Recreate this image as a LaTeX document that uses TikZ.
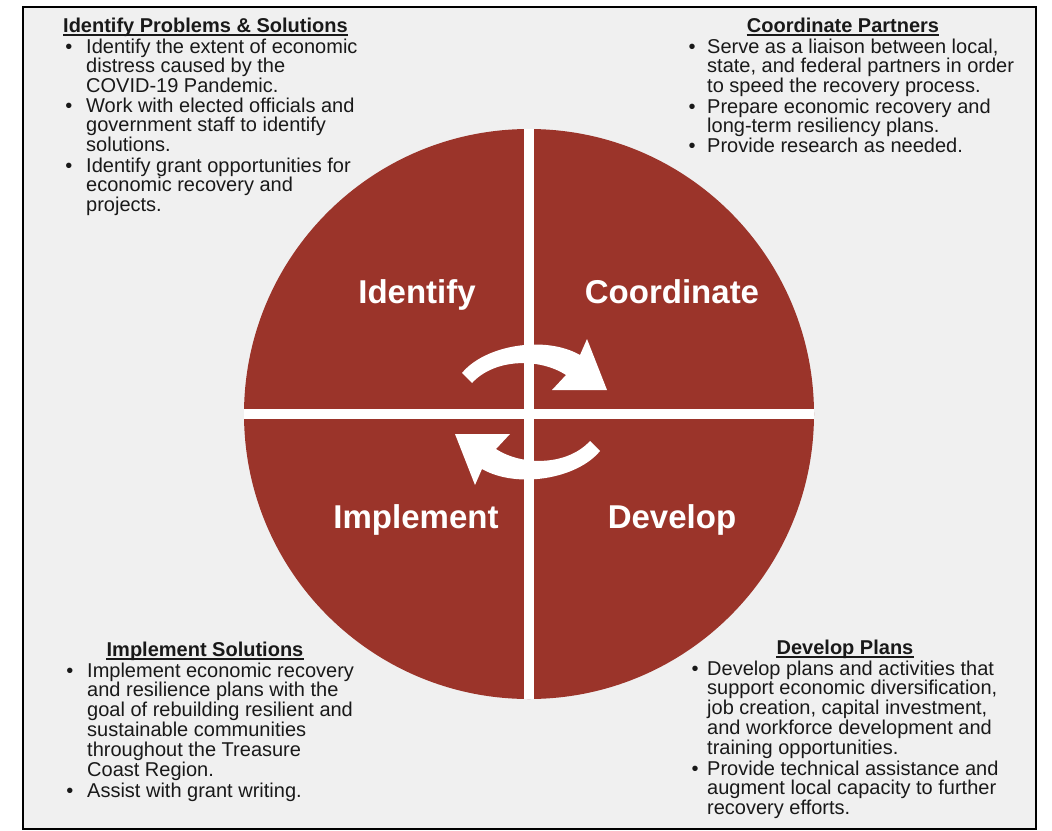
\documentclass[tikz,border=0pt]{standalone}
\usepackage{fontspec}
\setmainfont{Liberation Sans}
\definecolor{wheel}{RGB}{155,52,42}
\definecolor{panel}{RGB}{240,240,240}
\definecolor{ink}{RGB}{25,25,25}
\begin{document}
\begin{tikzpicture}[x=1pt,y=-1pt,
  body/.style={anchor=base west, align=left, inner sep=0pt, text=ink, font=\fontsize{20}{19.85}\selectfont},
  bul/.style={anchor=base, inner sep=0pt, text=ink, font=\fontsize{20}{19.85}\selectfont},
  head/.style={anchor=base, inner sep=0pt, text=ink, font=\fontsize{20}{19.85}\selectfont\bfseries},
  uline/.style={draw=ink, line width=1.4pt},
  seg/.style={anchor=base, inner sep=0pt, text=white, font=\fontsize{33}{36}\selectfont\bfseries},
  arrowfill/.style={fill=white}]
\useasboundingbox (0,0) rectangle (1052,830);
\fill[white] (0,0) rectangle (1052,830);
\draw[line width=2pt, fill=panel] (23,7) rectangle (1036,829);
% wheel
\fill[wheel] (529,414) circle (285pt);
\begin{scope}
  \clip (529,414) circle (285pt);
  \fill[white] (524,100) rectangle (534,720);
  \fill[white] (230,409) rectangle (830,419);
\end{scope}
% cycle arrows
\fill[arrowfill] (462,373) .. controls (485,345) and (545,335) .. (580,355) -- (587,339) -- (607,390) -- (552,390) -- (566,375) .. controls (540,358) and (495,358) .. (472,383) -- cycle;
\fill[arrowfill, rotate around={180:(531,412)}] (462,373) .. controls (485,345) and (545,335) .. (580,355) -- (587,339) -- (607,390) -- (552,390) -- (566,375) .. controls (540,358) and (495,358) .. (472,383) -- cycle;
% segment labels
\node[seg] (lid) at (417,303) {Identify};
\node[seg] (lco) at (672,303) {Coordinate};
\node[seg] (lim) at (416,528) {Implement};
\node[seg] (lde) at (672,528) {Develop};
% top left (multi-line nodes are placed at their last baseline)
\node[head, anchor=base west] (t1) at (63,32) {Identify Problems \& Solutions};
\draw[uline] ([yshift=-3pt]t1.base west) -- ([yshift=-3pt]t1.base east);
\node[bul] (b11) at (69,53) {•};
\node[body] (x11) at (86,92.7) {Identify the extent of economic\\distress caused by the\\COVID-19 Pandemic.};
\node[bul] (b12) at (69,112) {•};
\node[body] (x12) at (86,151.7) {Work with elected officials and\\government staff to identify\\solutions.};
\node[bul] (b13) at (69,172) {•};
\node[body] (x13) at (86,211.7) {Identify grant opportunities for\\economic recovery and\\projects.};
% top right
\node[head] (t2) at (843,32) {Coordinate Partners};
\draw[uline] ([yshift=-3pt]t2.base west) -- ([yshift=-3pt]t2.base east);
\node[bul] (b21) at (692,53) {•};
\node[body] (x21) at (707,92.7) {Serve as a liaison between local,\\state, and federal partners in order\\to speed the recovery process.};
\node[bul] (b22) at (692,113) {•};
\node[body] (x22) at (707,132.85) {Prepare economic recovery and\\long-term resiliency plans.};
\node[bul] (b23) at (692,152.5) {•};
\node[body] (x23) at (707,152.5) {Provide research as needed.};
% bottom left
\node[head] (t3) at (205,656) {Implement Solutions};
\draw[uline] ([yshift=-3pt]t3.base west) -- ([yshift=-3pt]t3.base east);
\node[bul] (b31) at (70,677) {•};
\node[body] (x31) at (87,776.25) {Implement economic recovery\\and resilience plans with the\\goal of rebuilding resilient and\\sustainable communities\\throughout the Treasure\\Coast Region.};
\node[bul] (b32) at (70,797) {•};
\node[body] (x32) at (87,797) {Assist with grant writing.};
% bottom right
\node[head] (t4) at (845,654) {Develop Plans};
\draw[uline] ([yshift=-3pt]t4.base west) -- ([yshift=-3pt]t4.base east);
\node[bul] (b41) at (695,675) {•};
\node[body] (x41) at (707,754.4) {Develop plans and activities that\\support economic diversification,\\job creation, capital investment,\\and workforce development and\\training opportunities.};
\node[bul] (b42) at (695,775) {•};
\node[body] (x42) at (707,814.7) {Provide technical assistance and\\augment local capacity to further\\recovery efforts.};
\end{tikzpicture}
\end{document}
